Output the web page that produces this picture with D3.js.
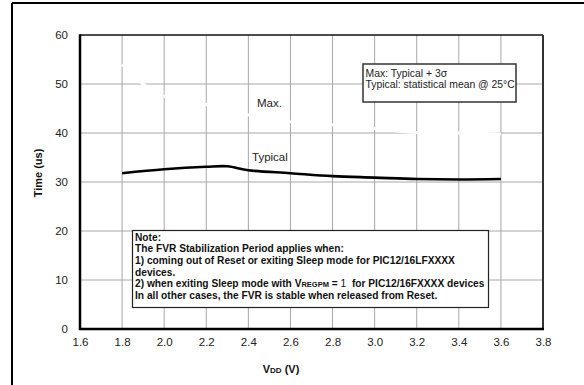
<!DOCTYPE html>
<html>
  <head>
    <style>
      body,
      html {
        width: 100%;
        height: 100%;
        margin: 0;
        padding: 0;
        overflow: hidden;
        background: #fff;
      }
      svg {
        display: block;
        font-family: "Liberation Sans", Arial, sans-serif;
      }
    </style>
  </head>
  <body>
    <script src="https://cdn.jsdelivr.net/npm/d3@7"></script>
    <script>
      const width = 584;
      const height = 385;

      // data
      const vddTicks = [1.6, 1.8, 2.0, 2.2, 2.4, 2.6, 2.8, 3.0, 3.2, 3.4, 3.6, 3.8];
      const timeTicks = [0, 10, 20, 30, 40, 50, 60];
      const typVdd = [1.8, 2.0, 2.2, 2.3, 2.4, 2.6, 2.8, 3.0, 3.2, 3.4, 3.6];
      const typTime = [31.8, 32.6, 33.1, 33.2, 32.4, 31.8, 31.2, 30.9, 30.6, 30.5, 30.6];
      const maxVdd = [1.8, 1.9, 2.0, 2.2, 2.4, 2.6, 2.8, 3.0, 3.2, 3.4, 3.6];
      const maxTime = [54, 50, 47.5, 45.8, 43.7, 42.3, 41.7, 40.9, 40.1, 40.0, 39.8];
      const legendLines = ["Max: Typical + 3\u03c3", "Typical: statistical mean @ 25\u00b0C"];

      const x = d3.scaleLinear().domain([1.6, 3.8]).range([80, 543]);
      const y = d3.scaleLinear().domain([0, 60]).range([329, 35]);

      const svg = d3
        .select("body")
        .append("svg")
        .attr("width", width)
        .attr("height", height);

      // outer frame (only left and top edges show)
      svg.append("line").attr("x1", 12).attr("x2", 12).attr("y1", 3).attr("y2", height)
        .attr("stroke", "#000").attr("stroke-width", 2);
      svg.append("line").attr("x1", 12).attr("x2", width).attr("y1", 3).attr("y2", 3)
        .attr("stroke", "#000").attr("stroke-width", 2);

      // grid
      svg.append("g")
        .selectAll("line")
        .data(vddTicks.slice(1, -1))
        .enter()
        .append("line")
        .attr("x1", (d) => x(d))
        .attr("x2", (d) => x(d))
        .attr("y1", y(0))
        .attr("y2", y(60))
        .attr("stroke", "#a8a8a8")
        .attr("stroke-width", 1);
      svg.append("g")
        .selectAll("line")
        .data(timeTicks.slice(1, -1))
        .enter()
        .append("line")
        .attr("x1", x(1.6))
        .attr("x2", x(3.8))
        .attr("y1", (d) => y(d))
        .attr("y2", (d) => y(d))
        .attr("stroke", "#a8a8a8")
        .attr("stroke-width", 1);

      // axes (ticks hidden, labels only)
      const xAxis = svg.append("g")
        .attr("transform", `translate(0,${y(0)})`)
        .call(d3.axisBottom(x).tickValues(vddTicks).tickFormat(d3.format(".1f")).tickSize(0).tickPadding(9));
      const yAxis = svg.append("g")
        .attr("transform", `translate(${x(1.6)},0)`)
        .call(d3.axisLeft(y).tickValues(timeTicks).tickSize(0).tickPadding(12));
      [xAxis, yAxis].forEach((g) => {
        g.select(".domain").remove();
        g.selectAll("text").attr("font-size", 11.5).attr("fill", "#222")
          .style("font-family", "Liberation Sans, Arial, sans-serif");
      });

      // plot border
      svg.append("line").attr("x1", x(1.6)).attr("x2", x(3.8)).attr("y1", y(60)).attr("y2", y(60))
        .attr("stroke", "#111").attr("stroke-width", 1.5);
      svg.append("line").attr("x1", x(3.8)).attr("x2", x(3.8)).attr("y1", y(60)).attr("y2", y(0))
        .attr("stroke", "#333").attr("stroke-width", 2);
      svg.append("line").attr("x1", x(1.6)).attr("x2", x(1.6)).attr("y1", y(60) - 0.7).attr("y2", y(0) + 1)
        .attr("stroke", "#000").attr("stroke-width", 2.5);
      svg.append("line").attr("x1", x(1.6) - 1).attr("x2", x(3.8) + 1).attr("y1", y(0)).attr("y2", y(0))
        .attr("stroke", "#000").attr("stroke-width", 2.5);

      const line = d3.line()
        .x((d) => x(d[0]))
        .y((d) => y(d[1]))
        .curve(d3.curveCatmullRom.alpha(0.5));

      // Max curve (drawn white in the original)
      svg.append("path")
        .datum(d3.zip(maxVdd, maxTime))
        .attr("d", line)
        .attr("fill", "none")
        .attr("stroke", "#fff")
        .attr("stroke-width", 3);

      // Typical curve
      svg.append("path")
        .datum(d3.zip(typVdd, typTime))
        .attr("d", line)
        .attr("fill", "none")
        .attr("stroke", "#000")
        .attr("stroke-width", 2.6)
        .attr("stroke-linejoin", "round");

      // curve labels with white backing
      function curveLabel(txt, cx, cy) {
        const t = svg.append("text")
          .attr("x", cx)
          .attr("y", cy)
          .attr("font-size", 11.5)
          .attr("fill", "#222")
          .text(txt);
        const b = t.node().getBBox();
        svg.insert("rect", () => t.node())
          .attr("x", b.x - 2).attr("y", b.y - 1)
          .attr("width", b.width + 4).attr("height", b.height + 2)
          .attr("fill", "#fff");
      }
      curveLabel("Max.", 257, 107);
      curveLabel("Typical", 252, 161);

      // legend box
      svg.append("rect")
        .attr("x", 363).attr("y", 64).attr("width", 153).attr("height", 38)
        .attr("fill", "#fff").attr("stroke", "#333").attr("stroke-width", 1.5);
      svg.append("g")
        .selectAll("text")
        .data(legendLines)
        .enter()
        .append("text")
        .attr("x", 365.5)
        .attr("y", (d, i) => 76.5 + i * 11.7)
        .attr("font-size", 10.4)
        .attr("fill", "#222")
        .text((d) => d);

      // note box
      svg.append("rect")
        .attr("x", 132.5).attr("y", 230.5).attr("width", 356).attr("height", 77)
        .attr("fill", "#fff").attr("stroke", "#222").attr("stroke-width", 1.2);
      const note = svg.append("text")
        .attr("font-size", 10.2)
        .attr("font-weight", "bold")
        .attr("fill", "#111");
      const noteLines = [
        "Note:",
        "The FVR Stabilization Period applies when:",
        "1) coming out of Reset or exiting Sleep mode for PIC12/16LFXXXX",
        "devices.",
        null,
        "In all other cases, the FVR is stable when released from Reset.",
      ];
      noteLines.forEach((s, i) => {
        const ty = 240.8 + i * 11.6;
        if (s !== null) {
          note.append("tspan").attr("x", 135).attr("y", ty).text(s);
        } else {
          note.append("tspan").attr("x", 135).attr("y", ty).text("2) when exiting Sleep mode with V");
          note.append("tspan").attr("font-size", 7.5).text("REGPM");
          note.append("tspan").text(" = ");
          note.append("tspan").attr("font-weight", "normal").text("1");
          note.append("tspan").text("\u00a0\u00a0for PIC12/16FXXXX devices");
        }
      });

      // axis titles
      const xt = svg.append("text")
        .attr("x", 281)
        .attr("y", 373)
        .attr("text-anchor", "middle")
        .attr("font-size", 11)
        .attr("font-weight", "bold")
        .attr("fill", "#111");
      xt.append("tspan").text("V");
      xt.append("tspan").attr("font-size", 8).text("DD");
      xt.append("tspan").text(" (V)");

      svg.append("text")
        .attr("transform", "translate(42,173) rotate(-90)")
        .attr("text-anchor", "middle")
        .attr("font-size", 11)
        .attr("font-weight", "bold")
        .attr("fill", "#111")
        .text("Time (us)");
    </script>
  </body>
</html>
